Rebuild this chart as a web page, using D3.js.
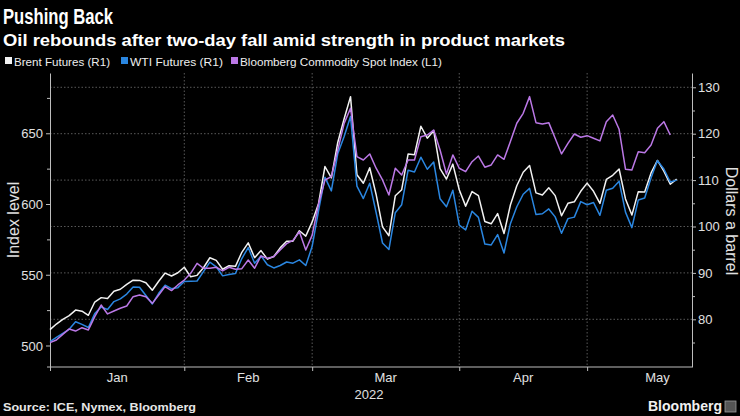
<!DOCTYPE html>
<html><head><meta charset="utf-8">
<script src="https://cdn.jsdelivr.net/npm/d3@7"></script>
<style>
html,body{margin:0;padding:0;background:#000;}
svg{display:block;}
text{font-family:"Liberation Sans",Arial,sans-serif;}
</style></head>
<body>
<svg id="chart" width="740" height="416"></svg>
<script>
// ---------- DATA (trading days, index 0 = 2021-12-31, last = 2022-05-19) ----------
const brent = [77.78,
 78.98,80.00,80.80,81.99,81.75,80.87,83.72,84.67,84.47,86.06,86.48,87.51,88.44,88.38,87.89,86.27,88.20,89.96,89.34,90.03,91.21,
 89.16,89.47,91.11,93.27,92.69,90.78,91.55,91.41,94.44,96.48,93.28,94.81,92.97,93.54,95.39,96.84,96.84,99.08,97.93,100.99,
 104.97,112.93,110.46,118.11,123.21,127.98,111.14,109.33,112.67,106.90,99.91,98.02,106.64,107.93,115.62,115.48,121.60,119.03,120.65,112.48,110.23,113.45,107.91,
 104.39,107.53,106.64,101.07,100.58,102.78,98.48,104.64,108.78,111.70,113.16,107.25,106.80,108.33,106.65,102.32,104.99,105.32,107.59,109.34,
 107.58,104.97,110.14,111.04,112.39,105.94,102.46,107.51,107.45,111.55,114.24,111.93,109.11,110.2];
const wti = [75.21,
 76.08,76.99,77.85,79.46,78.90,78.23,81.22,82.64,82.12,83.82,84.4,85.43,86.96,86.90,85.14,83.31,85.60,87.35,86.61,86.82,88.15,
 88.20,88.26,90.27,92.31,91.32,89.36,89.66,89.88,93.10,95.46,92.07,93.66,91.76,91.07,91.6,92.35,92.10,92.81,91.59,95.72,
 103.41,110.60,107.67,115.68,119.40,123.70,108.70,106.02,109.33,103.01,96.44,95.04,102.98,104.70,112.12,111.76,114.93,112.34,113.90,105.96,104.24,107.82,100.28,
 99.27,103.28,101.96,96.23,96.03,98.26,94.29,100.60,104.25,106.95,108.21,102.56,102.75,103.79,102.07,98.54,101.70,102.02,105.36,104.69,
 105.17,102.41,107.81,108.26,109.77,103.09,99.76,105.71,106.13,110.49,114.20,112.40,109.59,110.0];
const bcom = [502.0,
 503.9,507.9,511.7,510.2,512.6,511.0,520.4,528.6,522.3,524.4,526.3,527.9,534.5,535.7,534.5,529.8,535.7,541.6,538.8,542.8,546.3,
 551.0,558.1,554.6,554.6,555.3,552.7,555.3,553.9,554.3,560.4,554.6,563.3,561.6,562.8,567.5,572.0,574.3,580.4,567.5,578.0,
 600.0,617.0,619.3,638.2,657.0,667.7,633.5,631.1,635.4,625.3,617.0,606.4,625.3,620.5,631.1,631.1,647.6,648.8,652.3,638.2,621.2,634.7,625.3,
 622.9,629.9,633.9,626.0,627.6,634.7,631.6,644.1,657.1,664.1,675.9,657.5,656.6,657.5,646.5,635.4,642.9,649.5,647.2,648.3,
 646.5,644.6,658.2,662.9,652.8,624.6,624.0,637.0,636.3,641.7,653.5,658.2,648.8];
const monthLabels = ["Jan","Feb","Mar","Apr","May"];
const monthEndIdx = [21, 41, 64, 84];          // last trading day of Jan..Apr
const monthMidIdx = [10.5, 31, 52.5, 74, 95];  // centre of each month's span
const yearLabel = "2022";
const leftTicks = [500, 550, 600, 650];
const leftMinor = [525, 575, 625, 675];
const rightTicks = [80, 90, 100, 110, 120, 130];
const rightMinor = [75, 85, 95, 105, 115, 125];
const seriesNames = ["Brent Futures (R1)", "WTI Futures (R1)", "Bloomberg Commodity Spot Index  (L1)"];
const seriesColors = ["#f2f2f2", "#2a86e0", "#bb78e6"];

// ---------- LAYOUT ----------
const svg = d3.select("#chart");
svg.append("rect").attr("width",740).attr("height",416).attr("fill","#000");
const X0 = 50, X1 = 692, Y0 = 73, Y1 = 367;
const x = d3.scaleLinear().domain([0, 100.4]).range([X0, X1]);
const yL = d3.scaleLinear().domain([484.8, 692.6]).range([Y1, Y0]);
const yR = d3.scaleLinear().domain([69.72, 133.08]).range([Y1, Y0]);

// titles
svg.append("text").attr("x",3).attr("y",24).attr("fill","#fff")
  .attr("font-size",22).attr("font-weight","bold")
  .attr("textLength",110).attr("lengthAdjust","spacingAndGlyphs").text("Pushing Back");
svg.append("text").attr("x",3).attr("y",46).attr("fill","#fff")
  .attr("font-size",16).attr("font-weight","bold")
  .attr("textLength",562).attr("lengthAdjust","spacingAndGlyphs")
  .text("Oil rebounds after two-day fall amid strength in product markets");

// legend
const legX = [5, 121, 231];
const legLen = [96, 93, 202];
seriesNames.forEach((n,i)=>{
  svg.append("rect").attr("x",legX[i]).attr("y",57).attr("width",7).attr("height",7).attr("fill",seriesColors[i]);
  svg.append("text").attr("x",legX[i]+9).attr("y",65.5).attr("fill","#eeeeee")
    .attr("font-size",11.5).attr("textLength",legLen[i]).attr("lengthAdjust","spacingAndGlyphs").text(n);
});

// gridlines
const grid = svg.append("g");
grid.selectAll("line.h").data(rightTicks).join("line")
  .attr("x1",X0).attr("x2",X1).attr("y1",d=>yR(d)).attr("y2",d=>yR(d))
  .attr("stroke","#5a5a5a").attr("stroke-width",1).attr("stroke-dasharray","1.5,2");
grid.selectAll("line.v").data(monthEndIdx).join("line")
  .attr("x1",d=>x(d)).attr("x2",d=>x(d)).attr("y1",Y0).attr("y2",Y1)
  .attr("stroke","#5a5a5a").attr("stroke-width",1).attr("stroke-dasharray","1.5,2");

// axes
const axisColor = "#bdbdbd";
function styleAxis(g){
  g.select(".domain").attr("stroke",axisColor);
  g.selectAll(".tick line").attr("stroke",axisColor);
  g.selectAll(".tick text").attr("fill","#e0e0e0").attr("font-size",13)
    .attr("font-family","'Liberation Sans',Arial,sans-serif");
}
const gL = svg.append("g").attr("transform",`translate(${X0},0)`)
  .call(d3.axisLeft(yL).tickValues(leftTicks).tickSize(4).tickPadding(3).tickSizeOuter(0));
styleAxis(gL);
gL.selectAll(".tick text").attr("dy","0.35em");
svg.append("g").attr("transform",`translate(${X0},0)`)
  .call(d3.axisLeft(yL).tickValues(leftMinor).tickSize(3).tickFormat("").tickSizeOuter(0))
  .call(g=>{g.select(".domain").remove(); g.selectAll(".tick line").attr("stroke",axisColor);});

const gR = svg.append("g").attr("transform",`translate(${X1},0)`)
  .call(d3.axisRight(yR).tickValues(rightTicks).tickSize(4).tickPadding(2).tickSizeOuter(0));
styleAxis(gR);
svg.append("g").attr("transform",`translate(${X1},0)`)
  .call(d3.axisRight(yR).tickValues(rightMinor).tickSize(3).tickFormat("").tickSizeOuter(0))
  .call(g=>{g.select(".domain").remove(); g.selectAll(".tick line").attr("stroke",axisColor);});

const gB = svg.append("g").attr("transform",`translate(0,${Y1})`)
  .call(d3.axisBottom(x).tickValues([0].concat(monthEndIdx)).tickSize(4).tickFormat("").tickSizeOuter(0));
styleAxis(gB);
gB.select(".domain").attr("d",`M${X0-3},0H${X1}`);
svg.append("g").selectAll("text").data(monthLabels).join("text")
  .attr("x",(d,i)=>x(monthMidIdx[i])).attr("y",382).attr("text-anchor","middle")
  .attr("fill","#e0e0e0").attr("font-size",13).text(d=>d);
svg.append("text").attr("x",x(49.9)).attr("y",399).attr("text-anchor","middle")
  .attr("fill","#e0e0e0").attr("font-size",13).text(yearLabel);

// axis titles
svg.append("text").attr("transform","translate(19,220) rotate(-90)").attr("text-anchor","middle")
  .attr("fill","#e0e0e0").attr("font-size",16).text("Index level");
svg.append("text").attr("transform","translate(726,221) rotate(90)").attr("text-anchor","middle")
  .attr("fill","#e0e0e0").attr("font-size",16).text("Dollars a barrel");

// lines
const lineR = d3.line().x((d,i)=>x(i)).y(d=>yR(d));
const lineL = d3.line().x((d,i)=>x(i)).y(d=>yL(d));
svg.append("path").datum(brent).attr("d",lineR).attr("fill","none")
  .attr("stroke",seriesColors[0]).attr("stroke-width",1.5).attr("stroke-linejoin","round");
svg.append("path").datum(wti).attr("d",lineR).attr("fill","none")
  .attr("stroke",seriesColors[1]).attr("stroke-width",1.5).attr("stroke-linejoin","round");
svg.append("path").datum(bcom).attr("d",lineL).attr("fill","none")
  .attr("stroke",seriesColors[2]).attr("stroke-width",1.5).attr("stroke-linejoin","round");

// footer
svg.append("text").attr("x",3).attr("y",411).attr("fill","#e6e6e6")
  .attr("font-size",11.5).attr("font-weight","bold")
  .attr("textLength",193).attr("lengthAdjust","spacingAndGlyphs").text("Source: ICE, Nymex, Bloomberg");
svg.append("text").attr("x",722).attr("y",411).attr("text-anchor","end").attr("fill","#f0f0f0")
  .attr("font-size",15).attr("font-weight","bold")
  .attr("textLength",74).attr("lengthAdjust","spacingAndGlyphs").text("Bloomberg");
svg.append("rect").attr("x",725).attr("y",401).attr("width",11).attr("height",11)
  .attr("fill","#555").attr("stroke","#999").attr("stroke-width",0.8);
</script>
</body></html>
